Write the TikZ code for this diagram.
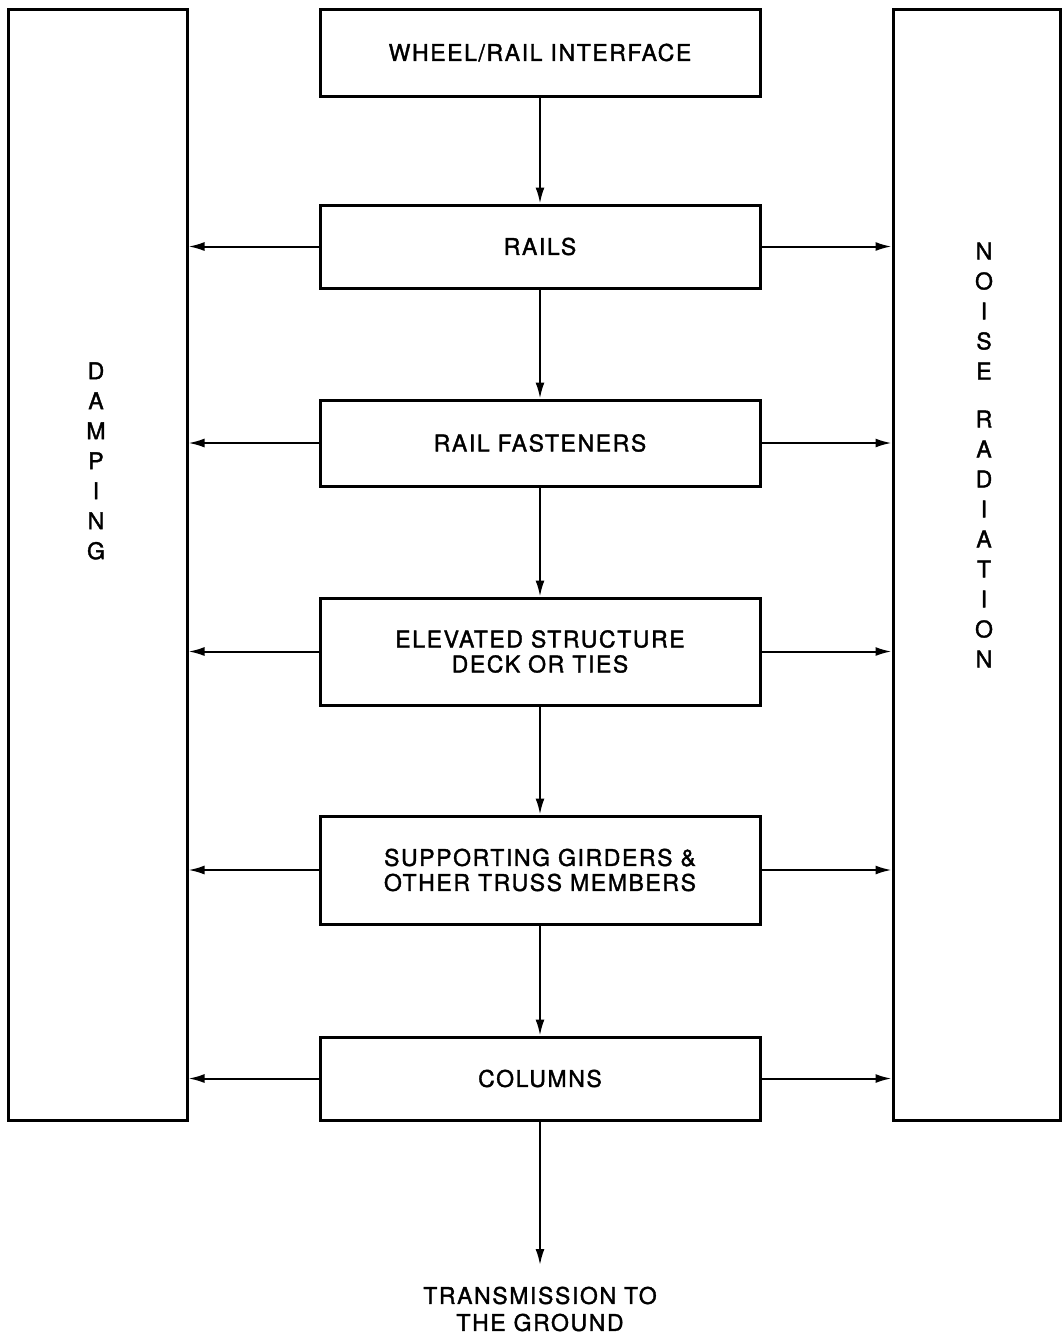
\documentclass[tikz,border=0pt]{standalone}
\usepackage{fontspec}
\setmainfont{TeX Gyre Heros}
\newfontfamily\lblfont[LetterSpace=7,FakeBold=1.6]{TeX Gyre Heros}
\usetikzlibrary{arrows.meta}
\begin{document}
\begin{tikzpicture}[x=1pt,y=-1pt,
  blk/.style={draw, line width=3pt, minimum width=440pt, inner sep=0pt,
    align=center, font=\lblfont\fontsize{23}{25}\selectfont},
  side/.style={draw, line width=3pt, inner sep=0pt, minimum height=1111pt},
  vtext/.style={align=center, inner sep=0pt, font=\lblfont\fontsize{23}{30}\selectfont},
  arr/.style={line width=2pt, -{Latex[length=16pt,width=9pt]}}]
\useasboundingbox (0,0) rectangle (1063,1334);

% side blocks
\node[side, minimum width=179pt] (damp) at (97.5,564.5) {};
\node[side, minimum width=167pt] (noise) at (976.5,564.5) {};
\node[vtext] (damptxt) at (96,461) {D\\A\\M\\P\\I\\N\\G};
\node[vtext] (noisetxt) at (984,455) {N\\O\\I\\S\\E\\[18pt]R\\A\\D\\I\\A\\T\\I\\O\\N};

% central chain
\node[blk, minimum height=87pt]  (wr)    at (540,52.5)  {WHEEL/RAIL INTERFACE};
\node[blk, minimum height=83pt]  (rails) at (540,246.5) {RAILS};
\node[blk, minimum height=86pt]  (fast)  at (540,443)   {RAIL FASTENERS};
\node[blk, minimum height=107pt] (elev)  at (540,651.5) {ELEVATED STRUCTURE\\DECK OR TIES};
\node[blk, minimum height=108pt] (supp)  at (540,870)   {SUPPORTING GIRDERS \&\\OTHER TRUSS MEMBERS};
\node[blk, minimum height=83pt]  (cols)  at (540,1078.5) {COLUMNS};

\draw[arr] (wr.south) -- (rails.north);
\draw[arr] (rails.south) -- (fast.north);
\draw[arr] (fast.south) -- (elev.north);
\draw[arr] (elev.south) -- (supp.north);
\draw[arr] (supp.south) -- (cols.north);

% branches to damping and noise radiation
\foreach \b in {rails,fast,elev,supp,cols}{
  \draw[arr] (\b.west) -- (\b.west -| damp.east);
  \draw[arr] (\b.east) -- (\b.east -| noise.west);
}

% output to ground
\coordinate (gnd) at (540,1265);
\draw[arr] (cols.south) -- (gnd);
\node[blk, draw=none, minimum width=0pt, font=\lblfont\fontsize{23}{27}\selectfont] (gtxt) at (540,1309) {TRANSMISSION TO\\THE GROUND};
\end{tikzpicture}
\end{document}
